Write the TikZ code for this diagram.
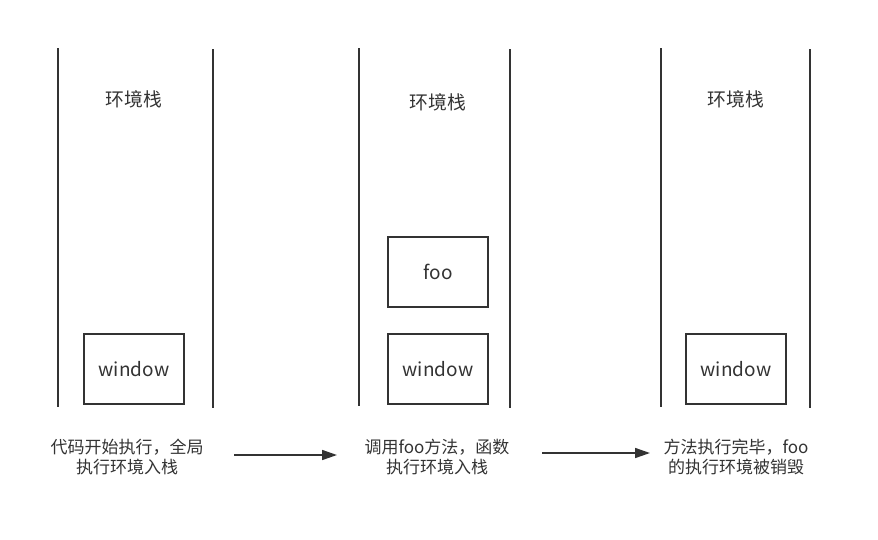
\documentclass[tikz,border=0pt]{standalone}
\usepackage{fontspec}
\setmainfont{Noto Sans CJK SC}
\usetikzlibrary{arrows.meta}
\definecolor{ink}{HTML}{333333}
\begin{document}
\begin{tikzpicture}[x=1pt,y=-1pt,
  wall/.style={draw=ink,line width=1.8pt},
  frame/.style={draw=ink,line width=1.6pt,minimum width=100pt,minimum height=70pt,inner sep=0pt,font=\fontsize{19}{23}\selectfont,text=ink},
  title/.style={font=\fontsize{18.8}{22}\selectfont,text=ink,inner sep=0pt},
  caption/.style={font=\fontsize{17}{20.5}\selectfont,text=ink,align=center,inner sep=0pt},
  link/.style={draw=ink,line width=1.6pt,-{Triangle[length=15pt,width=10pt]}}]
\useasboundingbox (0,0) rectangle (878,539);
% walls
\coordinate (a1) at (58,48); \coordinate (a2) at (58,407);
\coordinate (b1) at (213,49); \coordinate (b2) at (213,408);
\coordinate (c1) at (359,48); \coordinate (c2) at (359,406);
\coordinate (d1) at (510,49); \coordinate (d2) at (510,408);
\coordinate (e1) at (661,48); \coordinate (e2) at (661,407);
\coordinate (f1) at (810,49); \coordinate (f2) at (810,408);
\draw[wall] (a1) -- (a2);
\draw[wall] (b1) -- (b2);
\draw[wall] (c1) -- (c2);
\draw[wall] (d1) -- (d2);
\draw[wall] (e1) -- (e2);
\draw[wall] (f1) -- (f2);
% titles
\node[title] (t1) at (134,99.5) {环境栈};
\node[title] (t2) at (438,102.5) {环境栈};
\node[title] (t3) at (736,99.5) {环境栈};
% boxes
\node[frame] (w1) at (134,369) {window};
\node[frame] (foo) at (438,272) {foo};
\node[frame] (w2) at (438,369) {window};
\node[frame] (w3) at (736,369) {window};
% captions
\node[caption] (s1) at (127,457) {代码开始执行，全局\\执行环境入栈};
\node[caption] (s2) at (437,457) {调用foo方法，函数\\执行环境入栈};
\node[caption] (s3) at (736,457) {方法执行完毕，foo\\的执行环境被销毁};
% arrows
\coordinate (p1) at (234,455); \coordinate (p2) at (337,455);
\coordinate (q1) at (542,453); \coordinate (q2) at (650,453);
\draw[link] (p1) -- (p2);
\draw[link] (q1) -- (q2);
\end{tikzpicture}
\end{document}
